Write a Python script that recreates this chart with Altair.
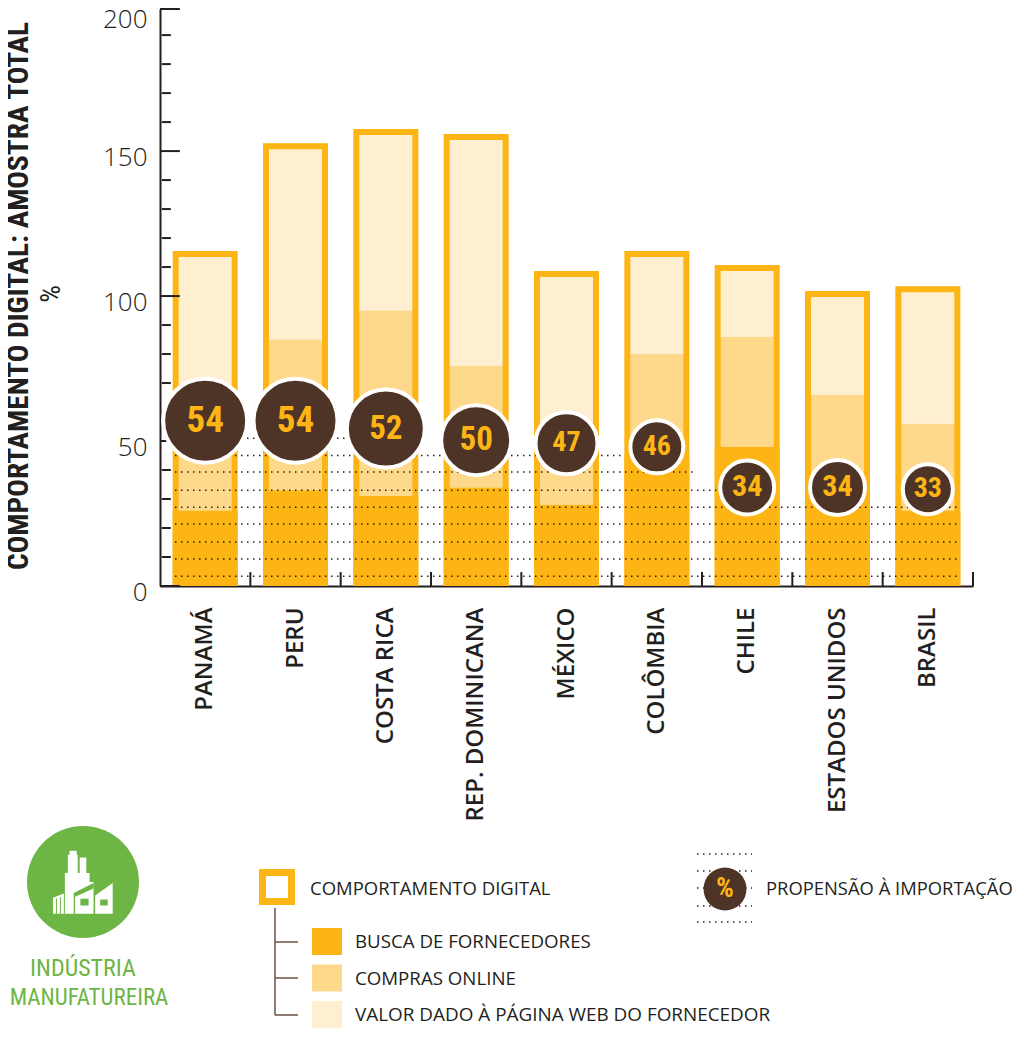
import altair as alt
import pandas as pd

paises = ["PANAMÁ", "PERU", "COSTA RICA", "REP. DOMINICANA", "MÉXICO", "COLÔMBIA", "CHILE", "ESTADOS UNIDOS", "BRASIL"]
total = [115.5, 152.7, 157.6, 155.9, 108.6, 115.5, 110.7, 101.7, 103.4]
compras_topo = [50, 85, 95, 76, 50, 80, 86, 66, 56]
busca = [26, 33, 31, 34, 28, 45, 48, 29, 26]
propensao = [54, 54, 52, 50, 47, 46, 34, 34, 33]
bolha_pos = [57, 57, 54.3, 50.3, 49.2, 48, 34, 34, 33.4]
bolha_diam = [84, 84, 78, 70, 62, 53, 54, 55, 50]
bolha_fonte = [37, 37, 33, 33, 28, 28, 30, 30, 28]

pontos_y = [51, 45, 39.3, 33, 27.2, 21.4, 15.2, 9.3, 3.4]
pontos_fim = [2.1, 5.13, 5.92, 6.25, 8.85, 8.85, 8.85, 8.85, 8.85]
y_maior = [0, 50, 100, 150, 200]
y_menor = [10, 20, 30, 40, 60, 70, 80, 90, 110, 120, 130, 140, 160, 170, 180, 190]
x_ticks = [1, 2, 3, 4, 5, 6, 7, 8, 9]
legenda_itens = ["BUSCA DE FORNECEDORES", "COMPRAS ONLINE", "VALOR DADO À PÁGINA WEB DO FORNECEDOR"]

LARANJA = "#FDB515"
MEDIO = "#FED98C"
CLARO = "#FEEFD1"
MARROM = "#4E3427"
PRETO = "#231F20"
VERDE = "#6DB544"
NARROW = "Roboto Condensed, Open Sans Condensed, Noto Sans Condensed, Liberation Sans Narrow, Lato"
TEXTO = "Open Sans"

df = pd.DataFrame({
    "pais": paises, "total": total, "compras": compras_topo, "busca": busca,
    "prop": propensao, "pos": bolha_pos,
    "diam2": [d * d for d in bolha_diam], "fonte": bolha_fonte,
    "zero": [0] * 9,
})
dots = pd.DataFrame({"y": pontos_y, "fim": pontos_fim, "ini": [0.166] * 9})

W, H = 813, 577
x_band = alt.X("pais:N", sort=paises, title=None,
               scale=alt.Scale(type="band", paddingInner=0, paddingOuter=0),
               axis=None)
x_axis = alt.X("pais:N", sort=paises, title=None,
               scale=alt.Scale(type="band", paddingInner=0, paddingOuter=0),
               axis=alt.Axis(ticks=False, domain=True, domainColor=PRETO, domainWidth=2,
                             labelAngle=-90, labelAlign="right", labelBaseline="middle",
                             labelFont="Open Sans", labelFontWeight=600, labelFontSize=24,
                             labelColor=PRETO, labelPadding=21, labelOverlap=False, labelLimit=400, grid=False))
y_scale = alt.Scale(domain=[0, 199], clamp=True, nice=False)


def Y(field, axis=None):
    return alt.Y(field, scale=y_scale, stack=None, axis=axis, title=None)


base = alt.Chart(df)
valor_bar = base.mark_bar(width=59, color=CLARO).encode(x=x_axis, y=Y(
    "total:Q", alt.Axis(values=y_maior, ticks=False, domain=True, domainColor=PRETO, domainWidth=2,
                        labelFont="Open Sans", labelFontWeight=300, labelFontSize=26, labelColor=PRETO, labelPadding=13,
                        labelOffset={"condition": {"test": "datum.value == 200", "value": 10}, "value": 6},
                        grid=False, title=None)), y2="compras:Q")
compras_bar = base.mark_bar(width=59, color=MEDIO).encode(x=x_band, y=Y("compras:Q"), y2="busca:Q")
busca_bar = base.mark_bar(width=65, color=LARANJA).encode(x=x_band, y=Y("busca:Q"), y2="zero:Q")
contorno = base.mark_bar(width=59, fillOpacity=0, stroke=LARANJA, strokeWidth=6, yOffset=3, y2Offset=-3).encode(
    x=x_band, y=Y("total:Q"), y2="zero:Q")

pontos = alt.Chart(dots).mark_rule(color=PRETO, strokeWidth=1.5, strokeDash=[1.5, 4.5]).encode(
    x=alt.X("ini:Q", scale=alt.Scale(domain=[0, 9], nice=False), axis=None, title=None),
    x2="fim:Q", y=Y("y:Q"))

maior = alt.Chart(pd.DataFrame({"y": y_maior, "a": [0] * 5, "b": [0.22] * 5})).mark_rule(color=PRETO, strokeWidth=2).encode(
    x=alt.X("a:Q", scale=alt.Scale(domain=[0, 9], nice=False), axis=None, title=None), x2="b:Q", y=Y("y:Q"))
menor = alt.Chart(pd.DataFrame({"y": y_menor, "a": [0.02] * 16, "b": [0.12] * 16})).mark_rule(color=PRETO, strokeWidth=2).encode(
    x=alt.X("a:Q", scale=alt.Scale(domain=[0, 9], nice=False), axis=None, title=None), x2="b:Q", y=Y("y:Q"))
xt = alt.Chart(pd.DataFrame({"x": x_ticks, "a": [0] * 9, "b": [4.8] * 9})).mark_rule(color=PRETO, strokeWidth=2).encode(
    x=alt.X("x:Q", scale=alt.Scale(domain=[0, 9], nice=False), axis=None, title=None), y=Y("a:Q"), y2="b:Q")

bolhas = base.mark_point(shape="circle", filled=True, fill=MARROM, fillOpacity=1, stroke="white", strokeWidth=4, opacity=1).encode(
    x=x_band, y=Y("pos:Q"), size=alt.Size("diam2:Q", scale=None, legend=None))
bolha_txt = base.mark_text(font=NARROW, fontWeight="bold", color=LARANJA, baseline="middle", align="center").encode(
    x=x_band, y=Y("pos:Q"), text="prop:Q", size=alt.Size("fonte:Q", scale=None, legend=None))


def px(X):
    return alt.value(X - 160)


def py(Y_):
    return alt.value(Y_ - 9)


one = alt.Chart(pd.DataFrame({"t": [""]}))


def label(text, X, Y_, size=18.7, font=TEXTO, color=PRETO, weight="normal", align="left", angle=0):
    return alt.Chart(pd.DataFrame({"t": [text]})).mark_text(
        font=font, fontSize=size, color=color, fontWeight=weight, align=align, baseline="middle", angle=angle
    ).encode(x=px(X), y=py(Y_), text="t:N")


def rect(X1, X2, Y1, Y2, **kw):
    return one.mark_rect(**kw).encode(x=px(X1), x2=px(X2), y=py(Y1), y2=py(Y2))


def line(X1, X2, Y1, Y2, color="#6B5144", w=1.5, dash=None):
    kw = {"strokeDash": dash} if dash else {}
    return one.mark_rule(color=color, strokeWidth=w, **kw).encode(x=px(X1), x2=px(X2), y=py(Y1), y2=py(Y2))


titulo = label("COMPORTAMENTO DIGITAL: AMOSTRA TOTAL", 19, 296, size=29.3, font=NARROW, weight="bold", align="center", angle=270)
pct = label("%", 52, 294, size=28, font=NARROW, align="center", angle=270)

fabrica_branca = ("M-0.41 -0.95 L-0.19 -0.95 L-0.19 -0.82 L-0.16 -0.82 L-0.16 -0.27 L-0.1 -0.27 L-0.1 -0.74 L0.1 -0.74 "
                  "L0.1 -0.27 L0.2 -0.27 L0.2 0.0 L0.32 -0.0 L0.32 0.96 L-0.55 0.96 L-0.55 -0.27 L-0.46 -0.27 L-0.46 -0.82 L-0.41 -0.82 Z "
                  "M0.37 0.41 L0.9 0.03 L0.9 0.96 L0.37 0.96 Z "
                  "M-0.91 0.48 L-0.58 0.35 L-0.58 0.96 L-0.91 0.96 Z")
fabrica_verde = ("M-0.28 0.33 L0.32 0.03 L0.32 0.2 L-0.24 0.45 L-0.24 0.96 L-0.28 0.96 Z "
                 "M-0.08 0.51 L0.17 0.51 L0.17 0.71 L-0.08 0.71 Z M0.52 0.53 L0.75 0.53 L0.75 0.71 L0.52 0.71 Z "
                 "M-0.82 0.5 L-0.79 0.5 L-0.79 0.96 L-0.82 0.96 Z M-0.7 0.46 L-0.67 0.46 L-0.67 0.96 L-0.7 0.96 Z")
circ = one.mark_point(shape="circle", filled=True, fill=VERDE, fillOpacity=1, opacity=1, size=112 * 112).encode(x=px(83), y=py(882))
fb = one.mark_point(shape=fabrica_branca, filled=True, fill="white", fillOpacity=1, opacity=1, size=66 * 66).encode(x=px(83), y=py(882))
fv = one.mark_point(shape=fabrica_verde, filled=True, fill=VERDE, fillOpacity=1, opacity=1, size=66 * 66).encode(x=px(83), y=py(882))

ind1 = label("INDÚSTRIA", 83, 969, size=24, font=NARROW, color=VERDE, align="center")
ind2 = label("MANUFATUREIRA", 89, 998, size=23, font=NARROW, color=VERDE, align="center")

leg = [
    rect(262.5, 291.5, 872.5, 901.5, fillOpacity=0, stroke=LARANJA, strokeWidth=7),
    label("COMPORTAMENTO DIGITAL", 310, 889, size=18.5),
    line(275, 275, 908, 1015),
    line(275, 298, 942, 942),
    line(275, 298, 978, 978),
    line(275, 298, 1015, 1015),
    rect(312, 342, 928, 955, color=LARANJA),
    rect(312, 342, 964.5, 991.5, color=MEDIO),
    rect(312, 342, 1001, 1028, color=CLARO),
    label(legenda_itens[0], 355, 942),
    label(legenda_itens[1], 355, 979),
    label(legenda_itens[2], 355, 1015, size=18.9),
]
for yy in [854, 871, 888, 906, 922]:
    leg.append(line(697, 752, yy, yy, color=PRETO, w=1.5, dash=[1.5, 4.5]))
leg += [
    one.mark_point(shape="circle", filled=True, fill=MARROM, fillOpacity=1, opacity=1, size=43 * 43).encode(x=px(725), y=py(889)),
    label("%", 725, 889, size=28, font=NARROW, color=LARANJA, weight="bold", align="center"),
    label("PROPENSÃO À IMPORTAÇÃO", 766, 889, size=18.4),
]

chart = alt.layer(
    valor_bar, compras_bar, busca_bar, contorno, xt, menor, maior, pontos, bolhas, bolha_txt,
    titulo, pct, circ, fb, fv, ind1, ind2, *leg,
).resolve_scale(x="independent", size="independent").resolve_axis(y="independent", x="independent").properties(
    width=W, height=H,
    autosize=alt.AutoSizeParams(type="none"),
    padding={"left": 152, "top": 1, "right": 43, "bottom": 442},
).configure_view(stroke=None)

chart.save("out.html", embed_options={"renderer": "svg", "actions": False})
